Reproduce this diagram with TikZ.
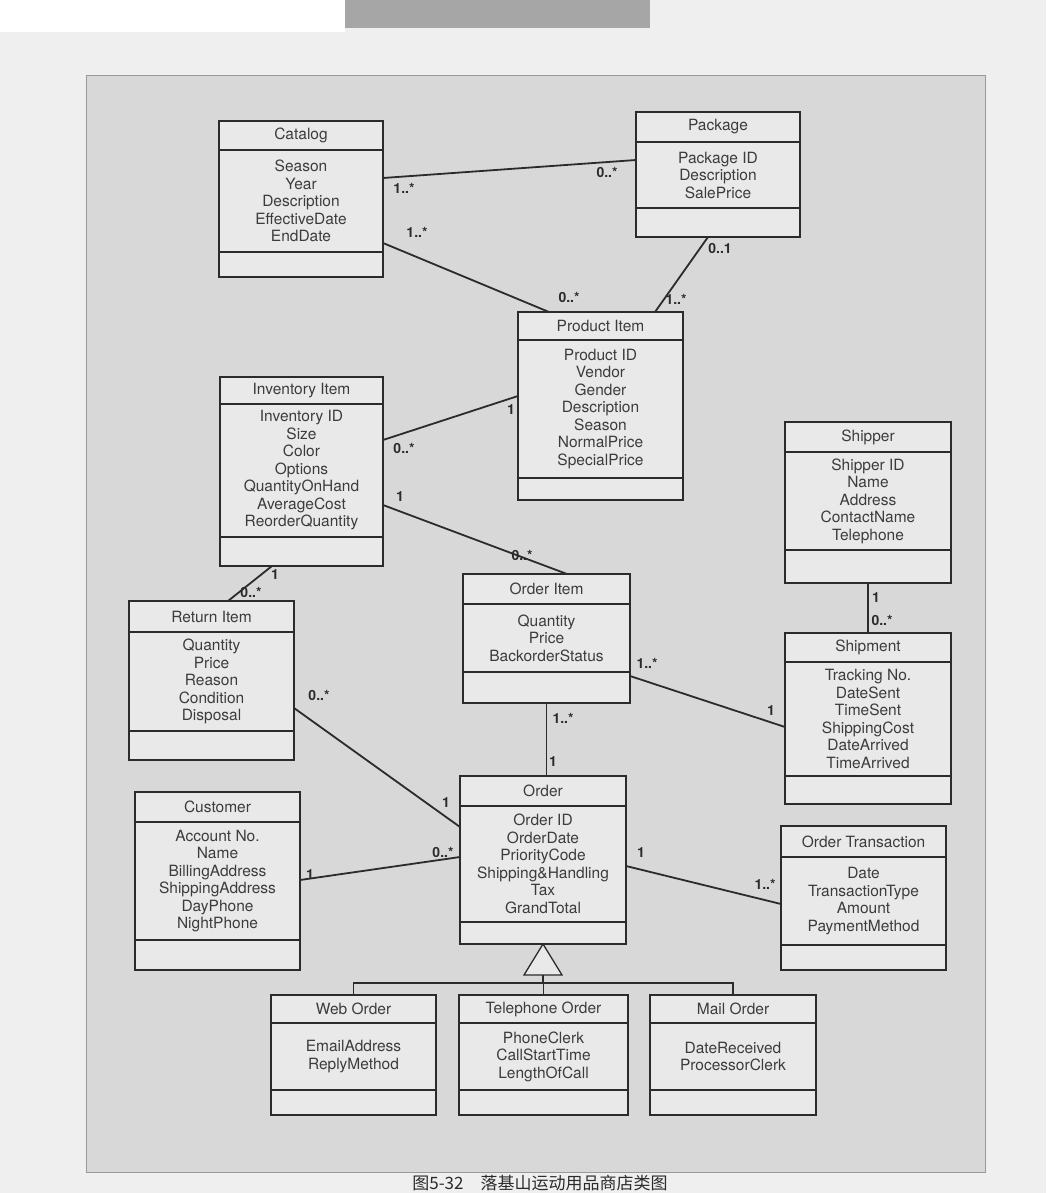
\documentclass[tikz,border=0pt]{standalone}
\usepackage{fontspec}
\setmainfont{TeX Gyre Heros}
\newfontfamily\cjk{Noto Sans CJK SC}
\usepackage{xcolor}
\usepackage{tikz}
\usetikzlibrary{calc,positioning}
\definecolor{pagegray}{HTML}{EFEFEF}
\definecolor{panelgray}{HTML}{D8D8D8}
\definecolor{boxgray}{HTML}{E9E9E9}
\definecolor{inkgray}{HTML}{2B2B2B}
\definecolor{textgray}{HTML}{3C3C3C}
\newcommand{\umlClass}[9]
{
	\node[classbox, anchor=north west, minimum width={#4-#2}, minimum height={#7-#3}](#1) at (#2,#3){};
	\draw[sepline](#2,#5) -- (#4,#5);
	\draw[sepline](#2,#6) -- (#4,#6);
	\node[classname](#1-name) at ({(#2+#4)/2},{(#3+#5)/2}){#8};
	\node[attrs](#1-attr) at ({(#2+#4)/2},{(#5+#6)/2}){#9};
}
\begin{document}
\begin{tikzpicture}[x=1pt,y=-1pt,
	classbox/.style={draw=inkgray,fill=boxgray,line width=1.3pt,inner sep=0pt,outer sep=0pt},
	sepline/.style={draw=inkgray,line width=1.3pt},
	classname/.style={text=textgray,font=\fontsize{15.5}{17}\selectfont,inner sep=0pt},
	attrs/.style={text=textgray,font=\fontsize{15.5}{17.5}\selectfont,align=center,inner sep=0pt},
	assoc/.style={draw=inkgray,line width=1.8pt},
	mult/.style={text=inkgray,font=\fontsize{14}{15}\selectfont\bfseries,inner sep=0pt}]
\useasboundingbox(0,0) rectangle (1046,1193);
\fill[pagegray](0,0) rectangle (1046,1193);
\fill[gray!70](345,0) rectangle (650,28);
\fill[white](0,0) rectangle (345,32);
\draw[fill=panelgray,draw=gray!80,line width=1pt](86,76) rectangle (985,1172);
\node[font=\cjk\fontsize{17}{19}\selectfont,text=inkgray](caption) at (540,1183){图5-32\quad 落基山运动用品商店类图};

\umlClass{catalog}{219}{121}{383}{150}{252}{277}{Catalog}{Season\\Year\\Description\\EffectiveDate\\EndDate}
\umlClass{package}{636}{112}{800}{142}{208}{237}{Package}{Package ID\\Description\\SalePrice}
\umlClass{product}{518}{312}{683}{340}{478}{500}{Product Item}{Product ID\\Vendor\\Gender\\Description\\Season\\NormalPrice\\SpecialPrice}
\umlClass{inventory}{220}{377}{383}{404}{537}{566}{Inventory Item}{Inventory ID\\Size\\Color\\Options\\QuantityOnHand\\AverageCost\\ReorderQuantity}
\umlClass{shipper}{785}{422}{951}{452}{550}{583}{Shipper}{Shipper ID\\Name\\Address\\ContactName\\Telephone}
\umlClass{orderitem}{463}{574}{630}{604}{672}{703}{Order Item}{Quantity\\Price\\BackorderStatus}
\umlClass{returnitem}{129}{601}{294}{632}{731}{760}{Return Item}{Quantity\\Price\\Reason\\Condition\\Disposal}
\umlClass{shipment}{785}{633}{951}{662}{776}{804}{Shipment}{Tracking No.\\DateSent\\TimeSent\\ShippingCost\\DateArrived\\TimeArrived}
\umlClass{order}{460}{776}{626}{806}{922}{944}{Order}{Order ID\\OrderDate\\PriorityCode\\Shipping\&Handling\\Tax\\GrandTotal}
\umlClass{customer}{135}{792}{300}{822}{940}{970}{Customer}{Account No.\\Name\\BillingAddress\\ShippingAddress\\DayPhone\\NightPhone}
\umlClass{transaction}{781}{826}{946}{857}{945}{970}{Order Transaction}{Date\\TransactionType\\Amount\\PaymentMethod}
\umlClass{weborder}{271}{995}{436}{1023}{1090}{1115}{Web Order}{EmailAddress\\ReplyMethod}
\umlClass{telorder}{459}{995}{628}{1023}{1090}{1115}{Telephone Order}{PhoneClerk\\CallStartTime\\LengthOfCall}
\umlClass{mailorder}{650}{995}{816}{1023}{1090}{1115}{Mail Order}{DateReceived\\ProcessorClerk}

\draw[assoc]([yshift=-57pt]catalog.north east) -- ([yshift=-48pt]package.north west);
\draw[assoc]([yshift=-122pt]catalog.north east) -- ([xshift=31pt]product.north west);
\draw[assoc]([xshift=72pt]package.south west) -- ([xshift=137pt]product.north west);
\draw[assoc]([yshift=-63pt]inventory.north east) -- ([yshift=-84pt]product.north west);
\draw[assoc]([yshift=-128pt]inventory.north east) -- ([xshift=104pt]orderitem.north west);
\draw[assoc]([xshift=52pt]inventory.south west) -- ([xshift=99pt]returnitem.north west);
\draw[assoc](shipper.south) -- (shipment.north);
\draw[assoc]([yshift=-102pt]orderitem.north east) -- ([yshift=-94pt]shipment.north west);
\draw[assoc](orderitem.south) -- (orderitem.south |- order.north);
\draw[assoc]([yshift=-107pt]returnitem.north east) -- ([yshift=-51pt]order.north west);
\draw[assoc]([yshift=-88pt]customer.north east) -- ([yshift=-81pt]order.north west);
\draw[assoc]([yshift=-90pt]order.north east) -- ([yshift=-78pt]transaction.north west);

\draw[sepline,fill=boxgray](order.south) -- ++(-19,31) -- ++(38,0) -- cycle;
\coordinate (gen) at ($(order.south)+(0,31)$);
\coordinate (genbar) at ($(gen)+(0,8)$);
\draw[sepline](gen) -- (genbar);
\draw[sepline](weborder.north) |- (genbar) -| (mailorder.north);
\draw[sepline](telorder.north) -- (telorder.north |- genbar);

\node[mult](m1) at (404,188){1..*};
\node[mult](m2) at (607,172){0..*};
\node[mult](m3) at (417,232){1..*};
\node[mult](m4) at (569,297){0..*};
\node[mult](m5) at (720,248){0..1};
\node[mult](m6) at (676,299){1..*};
\node[mult](m7) at (511,410){1};
\node[mult](m8) at (404,448){0..*};
\node[mult](m9) at (400,497){1};
\node[mult](m10) at (522,555){0..*};
\node[mult](m11) at (275,575){1};
\node[mult](m12) at (251,592){0..*};
\node[mult](m13) at (876,598){1};
\node[mult](m14) at (882,620){0..*};
\node[mult](m15) at (647,663){1..*};
\node[mult](m16) at (771,711){1};
\node[mult](m17) at (563,718){1..*};
\node[mult](m18) at (553,762){1};
\node[mult](m19) at (319,695){0..*};
\node[mult](m20) at (446,803){1};
\node[mult](m21) at (310,875){1};
\node[mult](m22) at (443,852){0..*};
\node[mult](m23) at (641,853){1};
\node[mult](m24) at (765,884){1..*};
\end{tikzpicture}
\end{document}
